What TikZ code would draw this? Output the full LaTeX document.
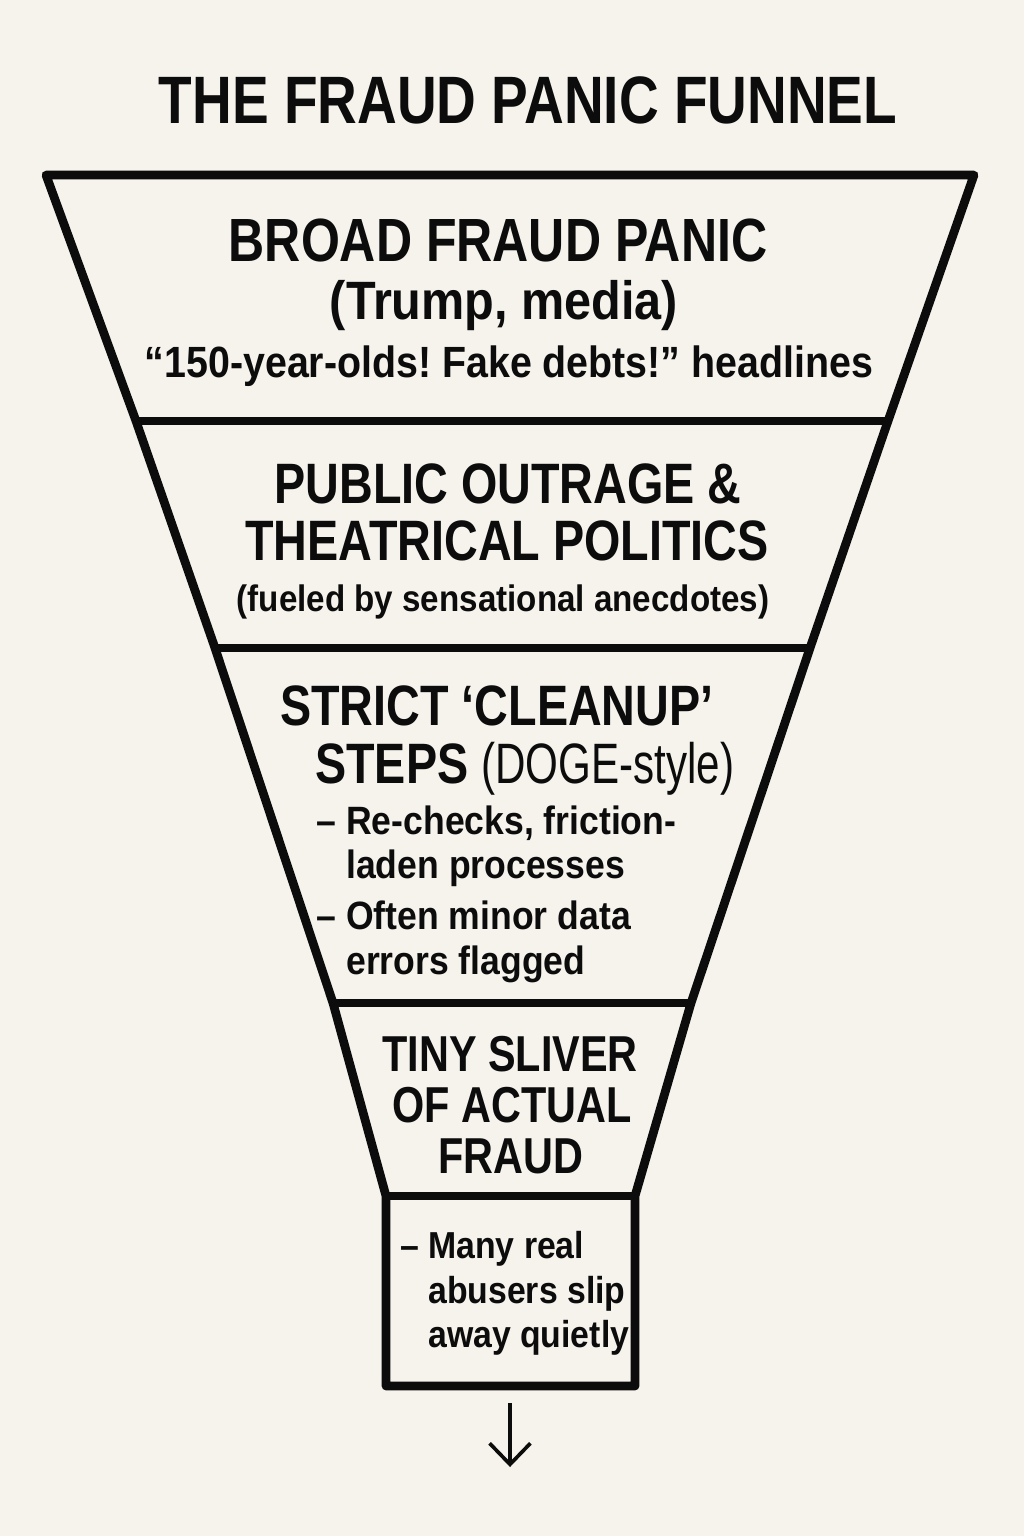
\documentclass[tikz,border=0pt]{standalone}
\usepackage{fontspec}
\usetikzlibrary{arrows.meta}

\newfontfamily\narrowfont[FakeStretch=0.82]{Liberation Sans}
\newfontfamily\slimfont[FakeStretch=0.74]{Liberation Sans}
\newfontfamily\plainfont[FakeStretch=0.9]{Liberation Sans}
\definecolor{paper}{RGB}{246,242,236}
\definecolor{ink}{RGB}{12,12,12}
\frenchspacing

\tikzset{
  funnel/.style={draw=ink, line width=6.2pt, line join=round},
  caps/.style={font=\narrowfont\bfseries\fontsize{#1}{#1}\selectfont, text=ink, inner sep=0pt, anchor=base},
  lower/.style={font=\plainfont\bfseries\fontsize{#1}{#1}\selectfont, text=ink, inner sep=0pt, anchor=base},
  item/.style={lower=#1, anchor=base west},
}

\begin{document}
\begin{tikzpicture}[x=0.025cm, y=-0.025cm]
  \fill[paper] (0,0) rectangle (1024,1536);
  \useasboundingbox (0,0) rectangle (1024,1536);

  \node[caps=47.7] (title) at (528,124) {THE FRAUD PANIC FUNNEL};

  % funnel corners, left and right side
  \coordinate (l0) at (46,175);   \coordinate (r0) at (974,175);
  \coordinate (l1) at (136,421);  \coordinate (r1) at (888,421);
  \coordinate (l2) at (215,648);  \coordinate (r2) at (810,648);
  \coordinate (l3) at (333,1003); \coordinate (r3) at (691,1003);
  \coordinate (l4) at (386,1196); \coordinate (r4) at (635,1196);
  \coordinate (l5) at (386,1386); \coordinate (r5) at (635,1386);

  \draw[funnel] (l0) -- (l1) -- (l2) -- (l3) -- (l4) -- (l5) -- (r5) -- (r4)
    -- (r3) -- (r2) -- (r1) -- (r0) -- cycle;
  \draw[funnel] (l1) -- (r1);
  \draw[funnel] (l2) -- (r2);
  \draw[funnel] (l3) -- (r3);
  \draw[funnel] (l4) -- (r4);

  % stage 1
  \node[caps=43.4] (broad) at (498,262) {BROAD FRAUD PANIC};
  \node[lower=38.4] (who) at (504,320) {(Trump, media)};
  \node[lower=31.1] (quote) at (509,377) {“150-year-olds! Fake debts!” headlines};

  % stage 2
  \node[caps=40.5] (outrage) at (508,503) {PUBLIC OUTRAGE \&};
  \node[caps=40.5] (theatre) at (507,560) {THEATRICAL POLITICS};
  \node[lower=26.2] (fueled) at (503,611) {(fueled by sensational anecdotes)};

  % stage 3
  \node[caps=40.5, anchor=base west] (strict) at (280,725) {STRICT ‘CLEANUP’};
  \node[caps=40.5, anchor=base west] (steps) at (315,783) {STEPS {\slimfont\mdseries(DOGE-style)}};
  \node[item=28.1] (recheck) at (346,834) {\llap{– }Re-checks, friction-};
  \node[item=28.1] (laden) at (346,878) {laden processes};
  \node[item=28.1] (often) at (346,929) {\llap{– }Often minor data};
  \node[item=28.1] (errors) at (346,974) {errors flagged};

  % stage 4
  \node[caps=35.9] (tiny) at (510,1071) {TINY SLIVER};
  \node[caps=35.9] (actual) at (512,1122) {OF ACTUAL};
  \node[caps=35.9] (fraud) at (511,1173) {FRAUD};

  % box under the funnel
  \node[item=26.7] (many) at (428,1258) {\llap{– }Many real};
  \node[item=26.7] (abusers) at (428,1303) {abusers slip};
  \node[item=26.7] (away) at (428,1347) {away quietly};

  \coordinate (outtop) at (510,1403);
  \coordinate (outend) at (510,1467);
  \draw[ink, line width=2.6pt, -{Straight Barb[length=15pt, width=29pt, line width=2.6pt]}] (outtop) -- (outend);
\end{tikzpicture}
\end{document}
